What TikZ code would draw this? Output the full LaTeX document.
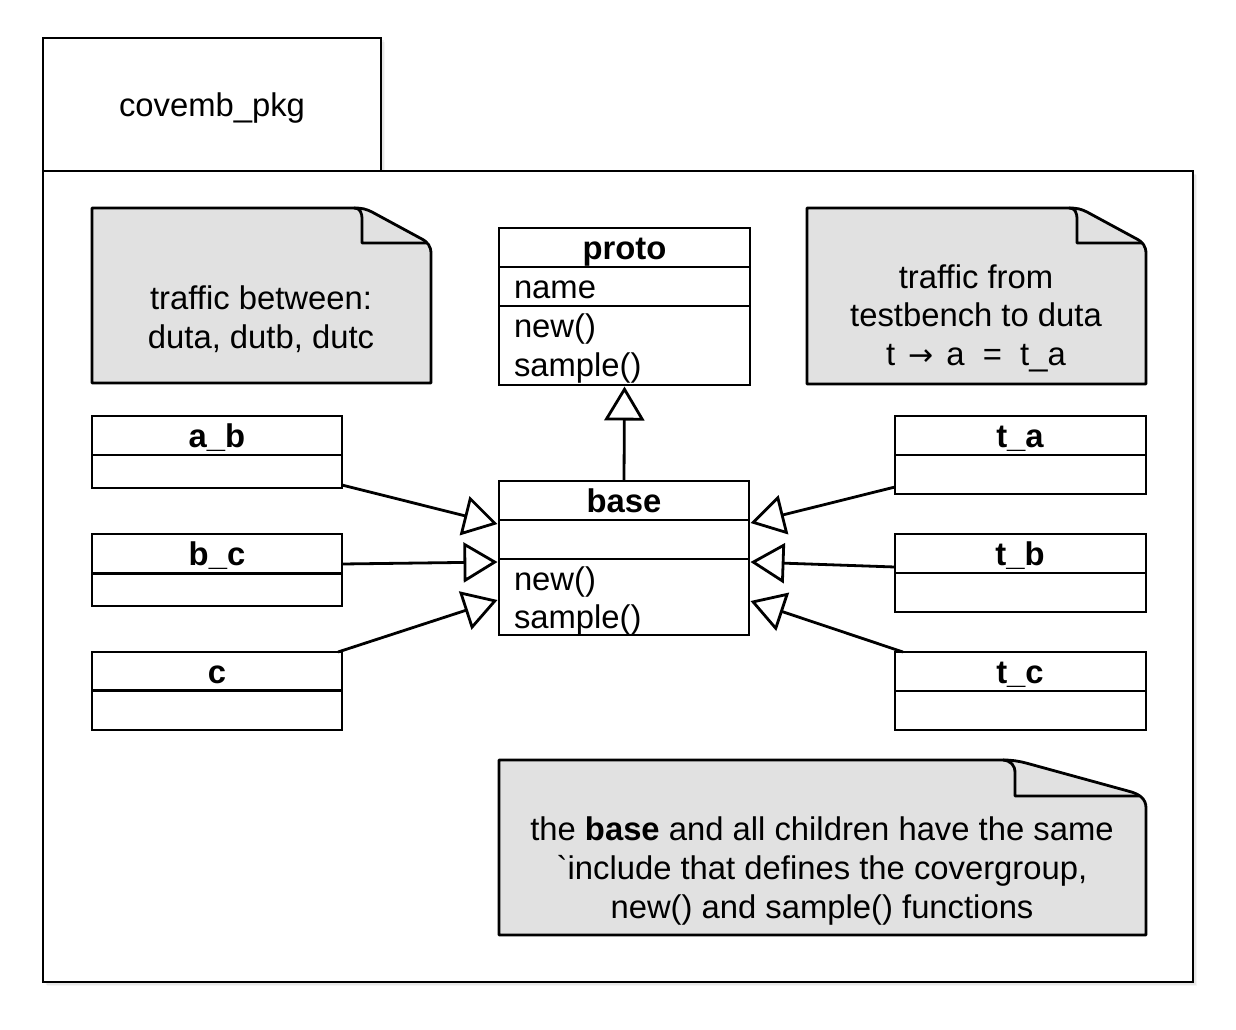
\documentclass[tikz,border=0pt]{standalone}
\usepackage{fontspec}
\setmainfont{Liberation Sans}
\newfontfamily\rawsans{Liberation Sans}[Ligatures=ResetAll]
\newfontfamily\symsans{DejaVu Sans}
\usetikzlibrary{arrows.meta,calc,shadows}
\definecolor{notegray}{RGB}{225,225,225}
\begin{document}
\begin{tikzpicture}[x=1pt,y=-1pt,
  txt/.style={inner sep=0pt, outer sep=0pt, anchor=base, font=\fontsize{32.8pt}{39pt}\selectfont},
  ltxt/.style={txt, anchor=base west},
  btxt/.style={txt, font=\fontsize{32.8pt}{39pt}\selectfont\bfseries},
  cls/.style={draw, line width=2.8pt, fill=white, inner sep=0pt, outer sep=0pt, anchor=north west},
  sepline/.style={line width=2.8pt},
  pkgbox/.style={draw, line width=2.8pt, fill=white, inner sep=0pt, outer sep=0pt, anchor=north west,
    drop shadow={shadow xshift=4pt, shadow yshift=-4pt, opacity=0.08},
    drop shadow={shadow xshift=2.5pt, shadow yshift=-2.5pt, opacity=0.12},
    drop shadow={shadow xshift=1.2pt, shadow yshift=-1.2pt, opacity=0.2}},
  gen/.style={line width=2.8pt, -{Triangle[length=34pt, width=40pt, fill=white, line join=miter]}},
  note/.style={draw, line width=2.8pt, fill=notegray, line join=round},
  notefold/.style={line width=2.8pt, line join=round},
]
\useasboundingbox (0,0) rectangle (1236,1030);

% package
\node[pkgbox, minimum width=338pt, minimum height=133pt] (tab) at (43,38) {};
\node[pkgbox, minimum width=1150pt, minimum height=811pt] (pkg) at (43,171) {};
\node[txt] (pkgname) at (212,117) {covemb\_pkg};

% note 1
\draw[note] (92,208) -- (354,208) .. controls (362,208) and (366,209) .. (372,212) -- (420,238) .. controls (428,242) and (431,246) .. (431,254) -- (431,383) -- (92,383) -- cycle;
\draw[notefold] (354,208) .. controls (360,208) and (362,212) .. (362,220) -- (362,243) -- (427,243);
\node[txt] (n1a) at (261,309) {traffic between:};
\node[txt] (n1b) at (261,348) {duta, dutb, dutc};

% note 2
\draw[note] (807,208) -- (1069,208) .. controls (1077,208) and (1081,209) .. (1087,212) -- (1135,238) .. controls (1143,242) and (1146,246) .. (1146,254) -- (1146,384) -- (807,384) -- cycle;
\draw[notefold] (1069,208) .. controls (1075,208) and (1077,212) .. (1077,220) -- (1077,243) -- (1142,243);
\node[txt] (n2a) at (976,288) {traffic from};
\node[txt] (n2b) at (976,326) {testbench to duta};
\node[txt] (n2c) at (976,365) {t\hspace*{13pt}{\symsans\fontsize{30pt}{39pt}\selectfont →}\hspace*{13pt}a \ = \ t\_a};

% note 3
\draw[note] (499,760) -- (1003,760) .. controls (1012,760) and (1018,761) .. (1026,763) -- (1128,791) .. controls (1140,794) and (1146,799) .. (1146,808) -- (1146,935) -- (499,935) -- cycle;
\draw[notefold] (1003,760) .. controls (1011,761) and (1015,765) .. (1015,773) -- (1015,796) -- (1139,796);
\node[txt] (n3a) at (822,840) {the \textbf{base} and all children have the same};
\node[txt] (n3b) at (822,879) {{\rawsans`include} that defines the covergroup,};
\node[txt] (n3c) at (822,918) {new() and sample() functions};

% proto
\node[cls, minimum width=251pt, minimum height=157pt] (proto) at (499,228) {};
\draw[sepline] (499,267) -- (750,267) (499,306) -- (750,306);
\node[btxt] (protot) at (624.5,259) {proto};
\node[ltxt] (protoa) at (514,298) {name};
\node[ltxt] (protom1) at (514,337) {new()};
\node[ltxt] (protom2) at (514,376) {sample()};

% base
\node[cls, minimum width=250pt, minimum height=154pt] (base) at (499,481) {};
\draw[sepline] (499,520) -- (749,520) (499,559) -- (749,559);
\node[btxt] (baset) at (624,512) {base};
\node[ltxt] (basem1) at (514,590) {new()};
\node[ltxt] (basem2) at (514,628) {sample()};

% left classes
\node[cls, minimum width=250pt, minimum height=72pt] (ab) at (92,416) {};
\draw[sepline] (92,455) -- (342,455);
\node[btxt] (abt) at (217,447) {a\_b};
\node[cls, minimum width=250pt, minimum height=72pt] (bc) at (92,534) {};
\draw[sepline] (92,573.5) -- (342,573.5);
\node[btxt] (bct) at (217,565) {b\_c};
\node[cls, minimum width=250pt, minimum height=78pt] (c) at (92,652) {};
\draw[sepline] (92,690.5) -- (342,690.5);
\node[btxt] (ct) at (217,683) {c};

% right classes
\node[cls, minimum width=251pt, minimum height=78pt] (ta) at (895,416) {};
\draw[sepline] (895,455) -- (1146,455);
\node[btxt] (tat) at (1020,447) {t\_a};
\node[cls, minimum width=251pt, minimum height=78pt] (tb) at (895,534) {};
\draw[sepline] (895,573) -- (1146,573);
\node[btxt] (tbt) at (1020,565) {t\_b};
\node[cls, minimum width=251pt, minimum height=78pt] (tc) at (895,652) {};
\draw[sepline] (895,691) -- (1146,691);
\node[btxt] (tct) at (1020,683) {t\_c};

% generalizations
\draw[gen] (base.north) -- ($(proto.south)+(0,1.5)$);
\draw[gen] ($(ab.south east)+(0,-3)$) -- ($(base.north west)+(-1.5,43)$);
\draw[gen] ($(bc.north east)+(0,30)$) -- ($(base.north west)+(-1.5,81)$);
\draw[gen] ($(c.north east)+(-4,0)$) -- ($(base.north west)+(-1.5,119)$);
\draw[gen] ($(ta.south west)+(0,-7)$) -- ($(base.north east)+(1.5,42)$);
\draw[gen] ($(tb.north west)+(0,33)$) -- ($(base.north east)+(1.5,81)$);
\draw[gen] ($(tc.north west)+(8,0)$) -- ($(base.north east)+(1.5,120)$);
\end{tikzpicture}
\end{document}
